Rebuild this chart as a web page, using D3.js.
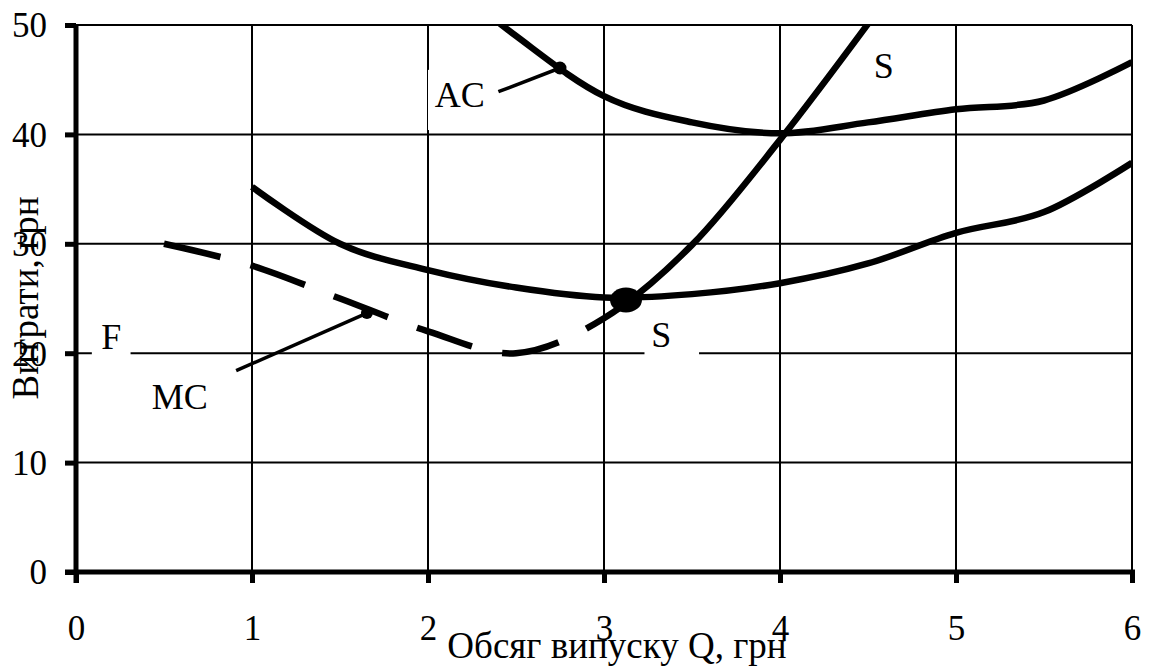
<!DOCTYPE html>
<html><head><meta charset="utf-8">
<script src="https://cdn.jsdelivr.net/npm/d3@7"></script>
<style>
html,body{margin:0;padding:0;background:#fff;}
svg{display:block;}
text{font-family:"Liberation Serif","DejaVu Serif","Times New Roman",serif !important;}
</style></head>
<body>
<svg id="chart" width="1150" height="670"></svg>
<script>
// ---- data ----
const xTicks = [0, 1, 2, 3, 4, 5, 6];
const yTicks = [0, 10, 20, 30, 40, 50];
const xTitle = "Обсяг випуску Q, грн";
const yTitle = "Витрати, грн";

const acQ = [2, 2.5, 3, 3.5, 4, 4.5, 5, 5.5, 6];
const acV = [55.5, 49.0, 43.5, 41.1, 40.1, 41.1, 42.3, 43.1, 46.6];

const avcQ = [1, 1.5, 2, 2.5, 3, 3.5, 4, 4.5, 5, 5.5, 6];
const avcV = [35.2, 30.0, 27.6, 26.0, 25.1, 25.4, 26.4, 28.2, 31.0, 32.9, 37.4];

const mcQ = [0.5, 1, 1.5, 2, 2.5, 3, 3.5, 4, 4.5];
const mcV = [30.0, 28.0, 25.0, 22.0, 20.0, 23.2, 29.9, 39.5, 50.1];
const mcSolidFrom = 3.1;

// annotations (data units)
const labels = [
  {text: "AC", q: 2.18, v: 42.5, box: [2.0, 2.4, 40.4, 45.9]},
  {text: "MC", q: 0.59, v: 14.9},
  {text: "F",  q: 0.20, v: 20.4, box: [0.09, 0.31, 19.6, 23.0]},
  {text: "S",  q: 3.325, v: 20.6, box: [3.23, 3.54, 19.6, 23.0]},
  {text: "S",  q: 4.59, v: 45.2}
];
const leaders = [
  {q1: 2.40, v1: 43.9, q2: 2.75, v2: 46.07},
  {q1: 0.91, v1: 18.4, q2: 1.653, v2: 23.67}
];
const dots = [
  {q: 2.75, v: 46.07, rx: 6.5, ry: 6.5},
  {q: 1.653, v: 23.67, rx: 6, ry: 6},
  {q: 3.125, v: 24.86, rx: 16, ry: 12.5}
];

// ---- chart ----
const FF = '"Liberation Serif","DejaVu Serif","Times New Roman",serif';
const svg = d3.select("#chart");
const x = d3.scaleLinear().domain([0, 6]).range([76, 1132]);
const y = d3.scaleLinear().domain([0, 50]).range([572, 25]);
const FONT = 35;

// gridlines
svg.append("g").selectAll("line").data(xTicks.filter(d => d > 0)).join("line")
  .attr("x1", d => x(d)).attr("x2", d => x(d))
  .attr("y1", y(0)).attr("y2", y(50))
  .attr("stroke", "#000").attr("stroke-width", 2);
svg.append("g").selectAll("line").data(yTicks.filter(d => d > 0)).join("line")
  .attr("x1", x(0)).attr("x2", x(6))
  .attr("y1", d => y(d)).attr("y2", d => y(d))
  .attr("stroke", "#000").attr("stroke-width", 2);

// white label boxes (cover gridlines)
svg.append("g").selectAll("rect").data(labels.filter(d => d.box)).join("rect")
  .attr("x", d => x(d.box[0])).attr("width", d => x(d.box[1]) - x(d.box[0]))
  .attr("y", d => y(d.box[3])).attr("height", d => y(d.box[2]) - y(d.box[3]))
  .attr("fill", "#fff");

// axes
const fmt = d3.format("d");
const gx = svg.append("g").attr("transform", `translate(0,${y(0)})`)
  .call(d3.axisBottom(x).tickValues(xTicks).tickFormat(fmt).tickSize(11).tickSizeOuter(0).tickPadding(32));
const gy = svg.append("g").attr("transform", `translate(${x(0)},0)`)
  .call(d3.axisLeft(y).tickValues(yTicks).tickFormat(fmt).tickSize(11).tickSizeOuter(0).tickPadding(18));
[gx, gy].forEach(g => {
  g.attr("font-family", FF).attr("font-size", FONT);
  g.select(".domain").attr("stroke", "#000").attr("stroke-width", 5);
  g.selectAll(".tick line").attr("stroke", "#000").attr("stroke-width", 5);
  g.selectAll(".tick text").attr("fill", "#000")
    .attr("font-family", FF).attr("font-size", FONT);
});
gy.selectAll(".tick text").attr("dx", "0").attr("dy", "0.34em");
gy.select(".domain").attr("d", `M0,${y(50)}V${y(0) + 11}`);
gx.select(".domain").attr("d", `M${x(0) - 11},0H${x(6) + 3}`);

// clip paths
const defs = svg.append("defs");
defs.append("clipPath").attr("id", "plot").append("rect")
  .attr("x", x(0)).attr("y", y(50)).attr("width", x(6) - x(0)).attr("height", y(0) - y(50));
defs.append("clipPath").attr("id", "dashPart").append("rect")
  .attr("x", x(0)).attr("y", y(50)).attr("width", x(mcSolidFrom) - x(0)).attr("height", y(0) - y(50));
defs.append("clipPath").attr("id", "solidPart").append("rect")
  .attr("x", x(mcSolidFrom)).attr("y", y(50)).attr("width", x(6) - x(mcSolidFrom)).attr("height", y(0) - y(50));

const line = d3.line().x(d => x(d[0])).y(d => y(d[1])).curve(d3.curveCatmullRom.alpha(0));
const zip = (a, b) => a.map((q, i) => [q, b[i]]);

const curves = svg.append("g");
curves.append("path").attr("d", line(zip(acQ, acV))).attr("clip-path", "url(#plot)")
  .attr("fill", "none").attr("stroke", "#000").attr("stroke-width", 6.5);
curves.append("path").attr("d", line(zip(avcQ, avcV))).attr("clip-path", "url(#plot)")
  .attr("fill", "none").attr("stroke", "#000").attr("stroke-width", 6.5);
curves.append("path").attr("d", line(zip(mcQ, mcV))).attr("clip-path", "url(#dashPart)")
  .attr("fill", "none").attr("stroke", "#000").attr("stroke-width", 6.5)
  .attr("stroke-dasharray", "58,31");
curves.append("path").attr("d", line(zip(mcQ, mcV))).attr("clip-path", "url(#solidPart)")
  .attr("fill", "none").attr("stroke", "#000").attr("stroke-width", 6.5);

// leaders and dots
svg.append("g").selectAll("line").data(leaders).join("line")
  .attr("x1", d => x(d.q1)).attr("y1", d => y(d.v1))
  .attr("x2", d => x(d.q2)).attr("y2", d => y(d.v2))
  .attr("stroke", "#000").attr("stroke-width", 3.5);
svg.append("g").selectAll("ellipse").data(dots).join("ellipse")
  .attr("cx", d => x(d.q)).attr("cy", d => y(d.v))
  .attr("rx", d => d.rx).attr("ry", d => d.ry).attr("fill", "#000");

// labels
svg.append("g").selectAll("text").data(labels).join("text")
  .attr("x", d => x(d.q)).attr("y", d => y(d.v))
  .attr("text-anchor", "middle").attr("font-family", FF).attr("font-size", 36).attr("fill", "#000")
  .text(d => d.text);

// axis titles
svg.append("text").attr("x", 617).attr("y", 658).attr("text-anchor", "middle")
  .attr("font-family", FF).attr("font-size", 37).attr("fill", "#000").text(xTitle);
svg.append("text").attr("transform", "translate(38,298) rotate(-90)").attr("text-anchor", "middle")
  .attr("font-family", FF).attr("font-size", 37).attr("fill", "#000").text(yTitle);
</script>
</body></html>
